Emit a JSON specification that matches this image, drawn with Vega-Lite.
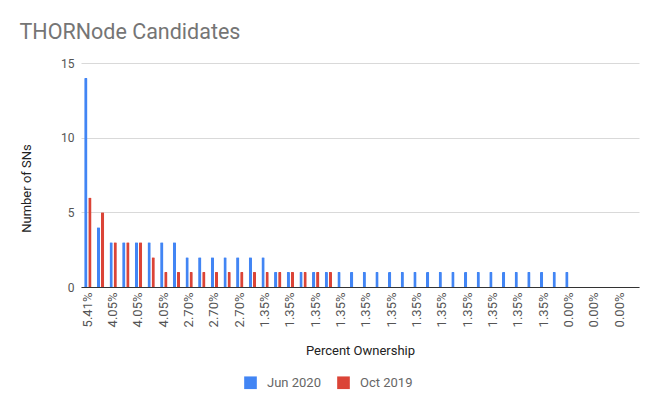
{
  "$schema": "https://vega.github.io/schema/vega-lite/v6.json",
  "autosize": "none",
  "width": 558,
  "height": 224,
  "padding": {"left": 81, "top": 63, "right": 14, "bottom": 116},
  "background": "white",
  "config": {
    "font": "Roboto",
    "view": {"stroke": null}
  },
  "title": {
    "text": "THORNode Candidates",
    "anchor": "start",
    "dx": -1,
    "offset": 14,
    "fontSize": 21.5,
    "fontWeight": "normal",
    "color": "#757575"
  },
  "data": {
    "values": [
      {"cat": "01|5.41%", "Jun 2020": 14, "Oct 2019": 6},
      {"cat": "02|4.05%", "Jun 2020": 4, "Oct 2019": 5},
      {"cat": "03|4.05%", "Jun 2020": 3, "Oct 2019": 3},
      {"cat": "04|4.05%", "Jun 2020": 3, "Oct 2019": 3},
      {"cat": "05|4.05%", "Jun 2020": 3, "Oct 2019": 3},
      {"cat": "06|4.05%", "Jun 2020": 3, "Oct 2019": 2},
      {"cat": "07|4.05%", "Jun 2020": 3, "Oct 2019": 1},
      {"cat": "08|4.05%", "Jun 2020": 3, "Oct 2019": 1},
      {"cat": "09|2.70%", "Jun 2020": 2, "Oct 2019": 1},
      {"cat": "10|2.70%", "Jun 2020": 2, "Oct 2019": 1},
      {"cat": "11|2.70%", "Jun 2020": 2, "Oct 2019": 1},
      {"cat": "12|2.70%", "Jun 2020": 2, "Oct 2019": 1},
      {"cat": "13|2.70%", "Jun 2020": 2, "Oct 2019": 1},
      {"cat": "14|2.70%", "Jun 2020": 2, "Oct 2019": 1},
      {"cat": "15|1.35%", "Jun 2020": 2, "Oct 2019": 1},
      {"cat": "16|1.35%", "Jun 2020": 1, "Oct 2019": 1},
      {"cat": "17|1.35%", "Jun 2020": 1, "Oct 2019": 1},
      {"cat": "18|1.35%", "Jun 2020": 1, "Oct 2019": 1},
      {"cat": "19|1.35%", "Jun 2020": 1, "Oct 2019": 1},
      {"cat": "20|1.35%", "Jun 2020": 1, "Oct 2019": 1},
      {"cat": "21|1.35%", "Jun 2020": 1, "Oct 2019": 0},
      {"cat": "22|1.35%", "Jun 2020": 1, "Oct 2019": 0},
      {"cat": "23|1.35%", "Jun 2020": 1, "Oct 2019": 0},
      {"cat": "24|1.35%", "Jun 2020": 1, "Oct 2019": 0},
      {"cat": "25|1.35%", "Jun 2020": 1, "Oct 2019": 0},
      {"cat": "26|1.35%", "Jun 2020": 1, "Oct 2019": 0},
      {"cat": "27|1.35%", "Jun 2020": 1, "Oct 2019": 0},
      {"cat": "28|1.35%", "Jun 2020": 1, "Oct 2019": 0},
      {"cat": "29|1.35%", "Jun 2020": 1, "Oct 2019": 0},
      {"cat": "30|1.35%", "Jun 2020": 1, "Oct 2019": 0},
      {"cat": "31|1.35%", "Jun 2020": 1, "Oct 2019": 0},
      {"cat": "32|1.35%", "Jun 2020": 1, "Oct 2019": 0},
      {"cat": "33|1.35%", "Jun 2020": 1, "Oct 2019": 0},
      {"cat": "34|1.35%", "Jun 2020": 1, "Oct 2019": 0},
      {"cat": "35|1.35%", "Jun 2020": 1, "Oct 2019": 0},
      {"cat": "36|1.35%", "Jun 2020": 1, "Oct 2019": 0},
      {"cat": "37|1.35%", "Jun 2020": 1, "Oct 2019": 0},
      {"cat": "38|1.35%", "Jun 2020": 1, "Oct 2019": 0},
      {"cat": "39|0.00%", "Jun 2020": 1, "Oct 2019": 0},
      {"cat": "40|0.00%", "Jun 2020": 0, "Oct 2019": 0},
      {"cat": "41|0.00%", "Jun 2020": 0, "Oct 2019": 0},
      {"cat": "42|0.00%", "Jun 2020": 0, "Oct 2019": 0},
      {"cat": "43|0.00%", "Jun 2020": 0, "Oct 2019": 0},
      {"cat": "44|0.00%", "Jun 2020": 0, "Oct 2019": 0}
    ]
  },
  "transform": [
    {"fold": ["Jun 2020", "Oct 2019"], "as": ["series", "count"]}
  ],
  "mark": {"type": "bar", "cornerRadiusTopLeft": 1, "cornerRadiusTopRight": 1},
  "encoding": {
    "x": {
      "field": "cat",
      "type": "nominal",
      "sort": null,
      "scale": {"paddingInner": 0.42, "paddingOuter": 0.25},
      "title": "Percent Ownership",
      "axis": {
        "labelAngle": -90,
        "labelExpr": "toNumber(split(datum.value, '|')[0]) % 2 == 1 ? split(datum.value, '|')[1] : ''",
        "labelFontSize": 13,
        "labelColor": "#555555",
        "labelPadding": 5,
        "labelOverlap": false,
        "ticks": false,
        "domainColor": "#333333",
        "titleFontSize": 13,
        "titleFontWeight": "normal",
        "titleColor": "#222222",
        "titlePadding": 18
      }
    },
    "xOffset": {
      "field": "series",
      "type": "nominal",
      "scale": {"paddingInner": 0.2}
    },
    "y": {
      "field": "count",
      "type": "quantitative",
      "scale": {"domain": [0, 15]},
      "title": "Number of SNs",
      "axis": {
        "values": [0, 5, 10, 15],
        "domain": false,
        "ticks": false,
        "gridColor": "#d9d9d9",
        "labelFontSize": 12,
        "labelColor": "#555555",
        "labelPadding": 7,
        "titleFontSize": 13,
        "titleFontWeight": "normal",
        "titleColor": "#222222",
        "titlePadding": 27,
        "titleY": 125
      }
    },
    "color": {
      "field": "series",
      "type": "nominal",
      "scale": {"domain": ["Jun 2020", "Oct 2019"], "range": ["#4285f4", "#db4437"]},
      "legend": {
        "title": null,
        "orient": "none",
        "direction": "horizontal",
        "legendX": 163,
        "legendY": 313,
        "symbolType": "square",
        "symbolSize": 160,
        "symbolStrokeWidth": 0,
        "symbolOpacity": 1,
        "labelFontSize": 13,
        "labelColor": "#666666",
        "labelOffset": 10,
        "columnPadding": 16
      }
    }
  }
}
